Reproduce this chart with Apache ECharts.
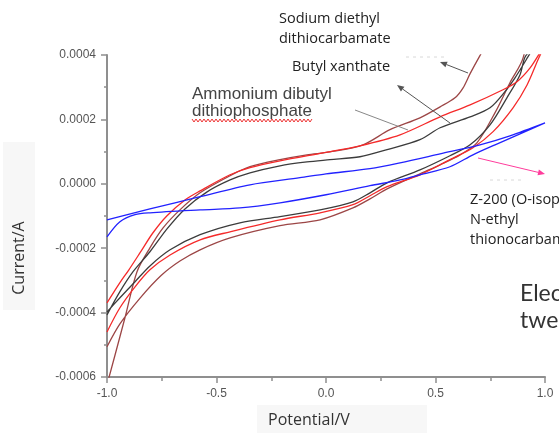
<!DOCTYPE html>
<html>
<head>
<meta charset="utf-8">
<style>
    html, body { margin: 0; padding: 0; background: #fff; }
    #chart { width: 559px; height: 436px; }
</style>
<script src="https://cdn.jsdelivr.net/npm/echarts@6/dist/echarts.min.js"></script>
</head>
<body>
<div id="chart"></div>
<script>
(function () {
    'use strict';

    // potential in V, current in units of 1e-4 A (one closed loop per collector)
    var z200V = [-1.000, -0.804, -0.575, -0.347, -0.119, 0.000, 0.201, 0.338, 0.521, 0.703, 0.840, 1.000,
        0.886, 0.772, 0.671, 0.566, 0.429, 0.338, 0.201, 0.000, -0.210, -0.393, -0.575, -0.804, -0.872, -0.941, -1.000];
    var z200I = [-1.12, -0.78, -0.40, -0.03, 0.19, 0.31, 0.47, 0.65, 0.93, 1.21, 1.49, 1.89,
        1.55, 1.21, 0.90, 0.53, 0.28, 0.12, -0.06, -0.34, -0.59, -0.75, -0.81, -0.90, -0.96, -1.18, -1.65];

    var dtpV = [-1.000, -0.941, -0.881, -0.804, -0.726, -0.644, -0.543, -0.438, -0.347, -0.210, -0.087, 0.018,
        0.155, 0.279, 0.429, 0.521, 0.658, 0.749, 0.817, 0.863, 0.922, 0.968, 1.000,
        0.954, 0.909, 0.886, 0.826, 0.749, 0.658, 0.566, 0.429, 0.279, 0.201, 0.123, -0.027, -0.210,
        -0.393, -0.575, -0.712, -0.804, -0.872, -0.941, -1.000];
    var dtpI = [-4.07, -3.35, -2.73, -2.11, -1.40, -0.78, -0.25, 0.12, 0.34, 0.56, 0.68, 0.75,
        0.84, 1.06, 1.37, 1.74, 2.08, 2.36, 2.86, 3.29, 3.94, 4.47, 4.85,
        4.30, 3.94, 3.39, 2.67, 1.83, 1.21, 0.87, 0.43, 0.03, -0.28, -0.56, -0.81, -1.02,
        -1.21, -1.58, -2.05, -2.55, -3.04, -3.54, -3.98];

    var xanV = [-1.000, -0.941, -0.900, -0.849, -0.790, -0.726, -0.644, -0.575, -0.438, -0.347, -0.210, -0.014,
        0.155, 0.338, 0.521, 0.658, 0.808, 0.872, 0.932, 0.977, 1.000,
        0.968, 0.918, 0.854, 0.763, 0.671, 0.566, 0.429, 0.279, 0.201, 0.123, -0.027, -0.210,
        -0.438, -0.575, -0.712, -0.804, -0.872, -0.941, -1.000];
    var xanI = [-3.70, -3.07, -2.67, -2.14, -1.52, -0.99, -0.50, -0.22, 0.28, 0.50, 0.71, 0.96,
        1.18, 1.52, 2.08, 2.45, 2.92, 3.17, 3.60, 4.07, 4.32,
        3.85, 3.07, 2.36, 1.62, 1.12, 0.75, 0.28, -0.09, -0.37, -0.65, -0.90, -1.12,
        -1.49, -1.74, -2.21, -2.67, -3.20, -3.85, -4.60];

    var dtcV = [-1.000, -0.963, -0.918, -0.863, -0.804, -0.744, -0.667, -0.575, -0.438, -0.347, -0.210, -0.087,
        0.018, 0.169, 0.292, 0.429, 0.521, 0.589, 0.626, 0.658, 0.703, 0.749, 1.000,
        0.900, 0.840, 0.772, 0.689, 0.612, 0.521, 0.429, 0.279, 0.201, 0.123, -0.027, -0.210,
        -0.438, -0.575, -0.667, -0.753, -0.849, -0.941, -1.000];
    var dtcI = [-6.24, -5.31, -4.16, -2.73, -1.99, -1.37, -0.81, -0.28, 0.25, 0.53, 0.75, 0.90,
        0.99, 1.21, 1.68, 2.05, 2.39, 2.67, 2.98, 3.42, 3.98, 4.53, 7.00,
        3.91, 3.14, 2.21, 1.27, 0.90, 0.59, 0.31, -0.16, -0.47, -0.75, -1.12, -1.30,
        -1.68, -2.05, -2.40, -2.85, -3.55, -4.35, -5.06];

    var pairs = function (xs, ys) {
        return xs.map(function (x, i) {
            return [x, ys[i]];
        });
    };

    var loop = function (xs, ys, color) {
        return {
            type: 'line',
            data: pairs(xs, ys),
            showSymbol: false,
            smooth: 0.3,
            clip: true,
            silent: true,
            lineStyle: { color: color, width: 1.3 }
        };
    };

    var label = function (text, x, y, font, color) {
        return {
            type: 'text',
            x: x,
            y: y,
            z: 10,
            style: { text: text, font: font, fill: color, verticalAlign: 'middle' }
        };
    };

    var arrow = function (x1, y1, x2, y2, color, head) {
        var ang = Math.atan2(y2 - y1, x2 - x1);
        var bx = x2 - 7 * Math.cos(ang);
        var by = y2 - 7 * Math.sin(ang);
        var px = -Math.sin(ang) * 3;
        var py = Math.cos(ang) * 3;
        var items = [{
            type: 'line',
            z: 10,
            shape: { x1: x1, y1: y1, x2: head ? bx : x2, y2: head ? by : y2 },
            style: { stroke: color, lineWidth: 1 }
        }];
        if (head) {
            items.push({
                type: 'polygon',
                z: 10,
                shape: { points: [[x2, y2], [bx + px, by + py], [bx - px, by - py]] },
                style: { fill: color }
            });
        }
        return items;
    };

    // faint dashed remnants next to two of the arrows
    var faint = function (x1, x2, y) {
        return {
            type: 'line',
            z: 9,
            shape: { x1: x1, y1: y, x2: x2, y2: y },
            style: { stroke: '#d8d8d8', lineWidth: 1, lineDash: [3, 4] }
        };
    };

    var wave = [];
    for (var wx = 192; wx <= 313; wx += 2) {
        wave.push([wx, (wx / 2) % 2 === 0 ? 119 : 122]);
    }

    var noteFont = '14.5px "Open Sans", sans-serif';
    var axisNameFont = '16px "Open Sans", sans-serif';
    var arialFont = '17px "Liberation Sans", Arial, sans-serif';

    var graphics = [
        { type: 'rect', z: 0, shape: { x: 3, y: 142, width: 32, height: 168 }, style: { fill: '#f7f7f7' } },
        { type: 'rect', z: 0, shape: { x: 257, y: 405, width: 170, height: 28 }, style: { fill: '#f7f7f7' } },
        {
            type: 'text', x: 19, y: 258, rotation: Math.PI / 2, z: 10,
            style: { text: 'Current/A', font: axisNameFont, fill: '#333', align: 'center', verticalAlign: 'middle' }
        },
        label('Potential/V', 268, 420, axisNameFont, '#333'),
        label('Sodium diethyl', 279, 19, noteFont, '#222'),
        label('dithiocarbamate', 279, 39, noteFont, '#222'),
        label('Butyl xanthate', 292, 67, noteFont, '#222'),
        label('Ammonium dibutyl', 192, 94, arialFont, '#444'),
        label('dithiophosphate', 192, 111, arialFont, '#444'),
        { type: 'polyline', z: 10, shape: { points: wave }, style: { stroke: '#e33', lineWidth: 1, fill: null } },
        label('Z-200 (O-isopropyl', 470, 200, noteFont, '#222'),
        label('N-ethyl', 470, 220, noteFont, '#222'),
        label('thionocarbamate', 470, 240, noteFont, '#222'),
        label('Electrochemical', 520, 294, '23px Lato, sans-serif', '#333'),
        label('tween', 520, 321, '23px Lato, sans-serif', '#333'),
        faint(406, 448, 57),
        faint(490, 522, 180)
    ]
        .concat(arrow(468, 73, 440, 62, '#555', true))
        .concat(arrow(450, 123, 397, 85, '#555', true))
        .concat(arrow(355, 110, 408, 130, '#888', false))
        .concat(arrow(478, 158, 545, 174, '#ff3c9c', true));

    var chart = echarts.init(document.getElementById('chart'), null, { renderer: 'canvas' });

    chart.setOption({
        animation: false,
        backgroundColor: '#fff',
        grid: { left: 107, right: 14, top: 55, bottom: 59 },
        xAxis: {
            type: 'value',
            min: -1,
            max: 1,
            interval: 0.5,
            axisLine: { onZero: false, lineStyle: { color: '#8f8f8f', width: 2 } },
            axisTick: { length: 6, lineStyle: { color: '#8f8f8f', width: 1.5 } },
            minorTick: { show: true, splitNumber: 2, length: 4, lineStyle: { color: '#8f8f8f', width: 1.5 } },
            splitLine: { show: false },
            axisLabel: {
                margin: 11,
                fontSize: 12,
                fontFamily: '"Liberation Sans", Arial, sans-serif',
                color: '#555',
                showMinLabel: true,
                showMaxLabel: true,
                formatter: function (v) {
                    return v.toFixed(1);
                }
            }
        },
        yAxis: {
            type: 'value',
            min: -6,
            max: 4,
            interval: 2,
            axisLine: { show: true, onZero: false, lineStyle: { color: '#8f8f8f', width: 2 } },
            axisTick: { show: true, length: 6, lineStyle: { color: '#8f8f8f', width: 1.5 } },
            minorTick: { show: true, splitNumber: 2, length: 3, lineStyle: { color: '#8f8f8f', width: 1.5 } },
            splitLine: { show: false },
            axisLabel: {
                margin: 11,
                fontSize: 12,
                fontFamily: '"Liberation Sans", Arial, sans-serif',
                color: '#555',
                formatter: function (v) {
                    return (v * 1e-4).toFixed(4);
                }
            }
        },
        series: [
            loop(dtcV, dtcI, '#9c4646'),
            loop(dtpV, dtpI, '#3c3c3c'),
            loop(xanV, xanI, '#f52a2a'),
            loop(z200V, z200I, '#2222ff')
        ],
        graphic: graphics
    });
}());
</script>
</body>
</html>
